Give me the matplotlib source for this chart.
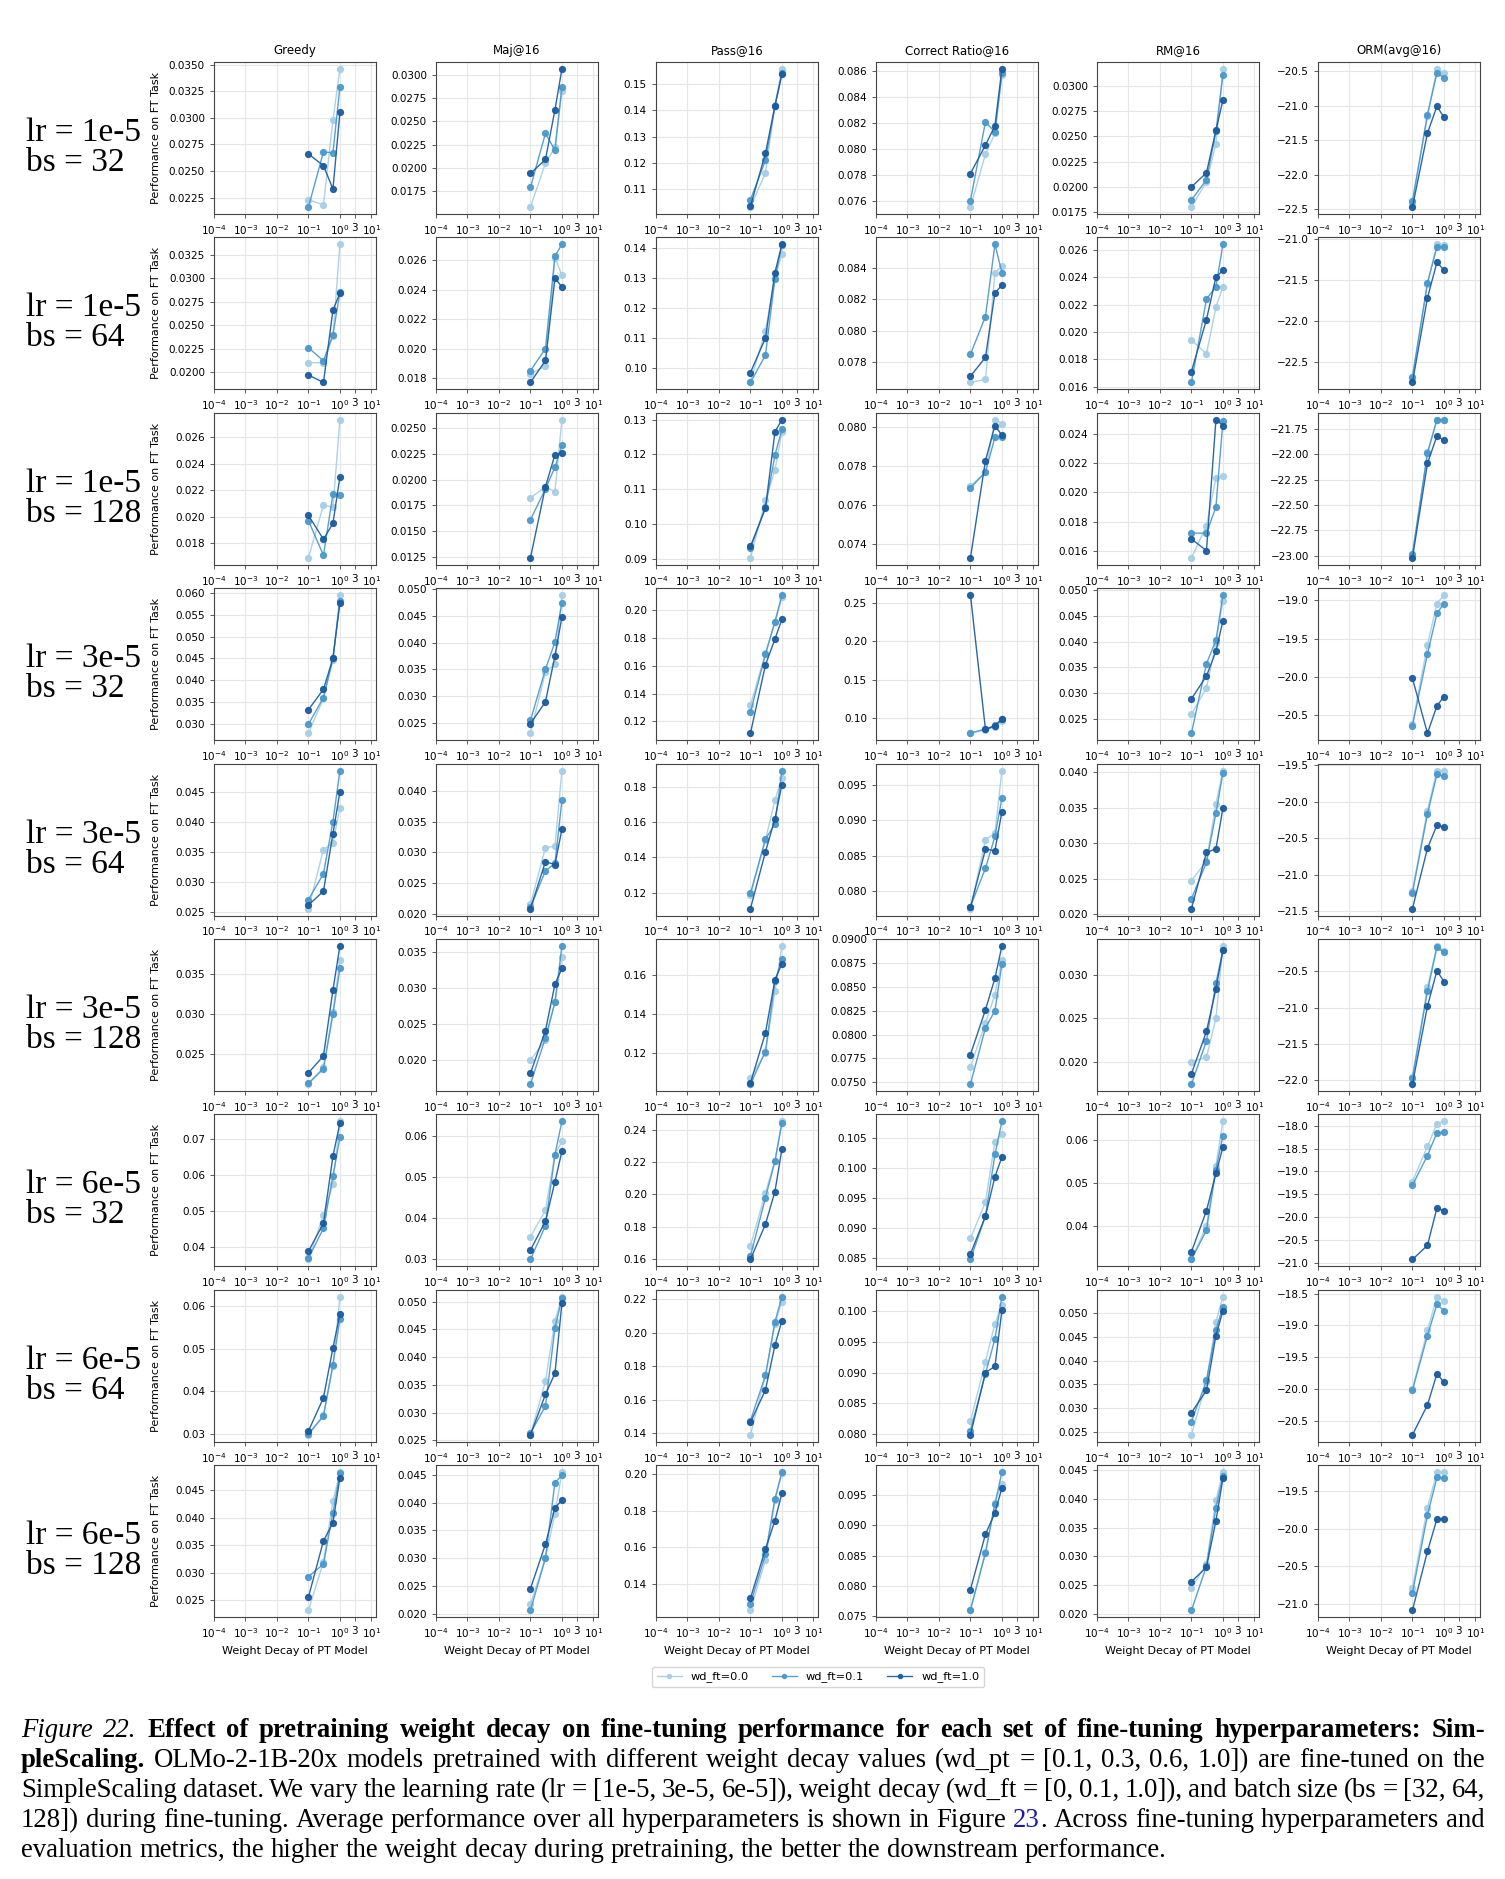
import matplotlib
matplotlib.use("Agg")
import matplotlib.pyplot as plt
from matplotlib.ticker import FixedLocator, FixedFormatter, NullLocator

# x positions: weight decay of the pretrained model
wd_pt = [0.1, 0.3, 0.6, 1.0]
series_labels = ['wd_ft=0.0', 'wd_ft=0.1', 'wd_ft=1.0']
metric_names = ['Greedy', 'Maj@16', 'Pass@16', 'Correct Ratio@16', 'RM@16', 'ORM(avg@16)']
lr_labels = ['1e-5', '1e-5', '1e-5', '3e-5', '3e-5', '3e-5', '6e-5', '6e-5', '6e-5']
bs_labels = ['32', '64', '128', '32', '64', '128', '32', '64', '128']

# one entry per (lr, bs) row; each entry = [wd_ft=0.0, wd_ft=0.1, wd_ft=1.0]
greedy = [
    [[0.0223, 0.0218, 0.0298, 0.0346], [0.0216, 0.0268, 0.0267, 0.0329], [0.0266, 0.0255, 0.0233, 0.0305]],
    [[0.0210, 0.0210, 0.0238, 0.0336], [0.0226, 0.0212, 0.0240, 0.0285], [0.0197, 0.0189, 0.0266, 0.0284]],
    [[0.0169, 0.0209, 0.0207, 0.0273], [0.0197, 0.0171, 0.0217, 0.0216], [0.0201, 0.0183, 0.0195, 0.0230]],
    [[0.0278, 0.0358, 0.0445, 0.0595], [0.0299, 0.0360, 0.0450, 0.0582], [0.0332, 0.0379, 0.0450, 0.0578]],
    [[0.0256, 0.0354, 0.0365, 0.0423], [0.0271, 0.0314, 0.0400, 0.0485], [0.0262, 0.0285, 0.0380, 0.0450]],
    [[0.0213, 0.0234, 0.0303, 0.0367], [0.0214, 0.0232, 0.0300, 0.0357], [0.0227, 0.0248, 0.0330, 0.0385]],
    [[0.0365, 0.0490, 0.0575, 0.0750], [0.0368, 0.0452, 0.0598, 0.0705], [0.0388, 0.0466, 0.0653, 0.0745]],
    [[0.0298, 0.0345, 0.0460, 0.0622], [0.0300, 0.0342, 0.0462, 0.0570], [0.0307, 0.0385, 0.0502, 0.0581]],
    [[0.0232, 0.0320, 0.0430, 0.0483], [0.0293, 0.0316, 0.0409, 0.0481], [0.0256, 0.0358, 0.0391, 0.0473]],
]
maj16 = [
    [[0.0158, 0.0205, 0.0222, 0.0282], [0.0179, 0.0237, 0.0219, 0.0287], [0.0194, 0.0209, 0.0262, 0.0306]],
    [[0.0183, 0.0188, 0.0262, 0.0250], [0.0185, 0.0200, 0.0263, 0.0271], [0.0177, 0.0192, 0.0248, 0.0242]],
    [[0.0182, 0.0193, 0.0188, 0.0258], [0.0161, 0.0191, 0.0212, 0.0233], [0.0124, 0.0193, 0.0224, 0.0226]],
    [[0.0230, 0.0345, 0.0360, 0.0489], [0.0254, 0.0350, 0.0401, 0.0474], [0.0248, 0.0289, 0.0375, 0.0448]],
    [[0.0215, 0.0308, 0.0310, 0.0434], [0.0210, 0.0270, 0.0282, 0.0385], [0.0208, 0.0285, 0.0280, 0.0338]],
    [[0.0200, 0.0228, 0.0280, 0.0342], [0.0167, 0.0231, 0.0280, 0.0358], [0.0182, 0.0241, 0.0305, 0.0327]],
    [[0.0355, 0.0420, 0.0555, 0.0587], [0.0300, 0.0382, 0.0555, 0.0636], [0.0323, 0.0393, 0.0489, 0.0563]],
    [[0.0260, 0.0357, 0.0465, 0.0509], [0.0263, 0.0312, 0.0453, 0.0506], [0.0260, 0.0333, 0.0371, 0.0497]],
    [[0.0217, 0.0300, 0.0380, 0.0455], [0.0206, 0.0300, 0.0436, 0.0449], [0.0245, 0.0325, 0.0391, 0.0404]],
]
pass16 = [
    [[0.1033, 0.1163, 0.1420, 0.1557], [0.1061, 0.1210, 0.1415, 0.1540], [0.1036, 0.1237, 0.1417, 0.1538]],
    [[0.0955, 0.1125, 0.1300, 0.1380], [0.0952, 0.1043, 0.1298, 0.1410], [0.0985, 0.1100, 0.1318, 0.1412]],
    [[0.0902, 0.1068, 0.1155, 0.1265], [0.0930, 0.1048, 0.1198, 0.1272], [0.0935, 0.1045, 0.1265, 0.1300]],
    [[0.1315, 0.1690, 0.1910, 0.2090], [0.1265, 0.1680, 0.1915, 0.2105], [0.1115, 0.1605, 0.1790, 0.1932]],
    [[0.1185, 0.1500, 0.1725, 0.1855], [0.1195, 0.1505, 0.1590, 0.1895], [0.1108, 0.1432, 0.1620, 0.1815]],
    [[0.1075, 0.1205, 0.1515, 0.1745], [0.1045, 0.1210, 0.1565, 0.1677], [0.1050, 0.1305, 0.1573, 0.1655]],
    [[0.1680, 0.2010, 0.2210, 0.2455], [0.1615, 0.1980, 0.2205, 0.2445], [0.1595, 0.1815, 0.2018, 0.2282]],
    [[0.1390, 0.1745, 0.2055, 0.2185], [0.1475, 0.1745, 0.2065, 0.2215], [0.1465, 0.1658, 0.1925, 0.2072]],
    [[0.1255, 0.1530, 0.1855, 0.2005], [0.1290, 0.1560, 0.1865, 0.2010], [0.1320, 0.1590, 0.1745, 0.1895]],
]
correct16 = [
    [[0.0755, 0.0796, 0.0812, 0.0857], [0.0760, 0.0821, 0.0813, 0.0859], [0.0781, 0.0803, 0.0818, 0.0862]],
    [[0.0767, 0.0769, 0.0837, 0.0841], [0.0785, 0.0809, 0.0855, 0.0837], [0.0771, 0.0783, 0.0824, 0.0829]],
    [[0.0770, 0.0777, 0.0804, 0.0802], [0.0769, 0.0777, 0.0795, 0.0795], [0.0733, 0.0783, 0.0801, 0.0796]],
    [[0.0805, 0.0850, 0.0885, 0.0970], [0.0810, 0.0860, 0.0910, 0.0985], [0.2600, 0.0855, 0.0900, 0.0990]],
    [[0.0775, 0.0872, 0.0882, 0.0970], [0.0778, 0.0832, 0.0877, 0.0931], [0.0777, 0.0859, 0.0857, 0.0912]],
    [[0.0766, 0.0812, 0.0842, 0.0878], [0.0748, 0.0807, 0.0825, 0.0874], [0.0779, 0.0826, 0.0859, 0.0893]],
    [[0.0883, 0.0943, 0.1043, 0.1056], [0.0848, 0.0920, 0.1022, 0.1077], [0.0857, 0.0920, 0.0985, 0.1018]],
    [[0.0820, 0.0918, 0.0980, 0.1010], [0.0805, 0.0898, 0.0955, 0.1024], [0.0798, 0.0900, 0.0910, 0.1002]],
    [[0.0760, 0.0855, 0.0937, 0.0968], [0.0761, 0.0854, 0.0935, 0.0987], [0.0794, 0.0885, 0.0920, 0.0961]],
]
rm16 = [
    [[0.0180, 0.0205, 0.0243, 0.0317], [0.0187, 0.0207, 0.0255, 0.0311], [0.0200, 0.0214, 0.0256, 0.0286]],
    [[0.0194, 0.0184, 0.0218, 0.0233], [0.0163, 0.0224, 0.0233, 0.0264], [0.0171, 0.0209, 0.0240, 0.0245]],
    [[0.0155, 0.0177, 0.0210, 0.0211], [0.0172, 0.0172, 0.0190, 0.0249], [0.0168, 0.0160, 0.0250, 0.0246]],
    [[0.0259, 0.0310, 0.0398, 0.0478], [0.0222, 0.0357, 0.0402, 0.0490], [0.0289, 0.0333, 0.0381, 0.0440]],
    [[0.0247, 0.0275, 0.0355, 0.0402], [0.0222, 0.0273, 0.0342, 0.0399], [0.0208, 0.0287, 0.0292, 0.0349]],
    [[0.0200, 0.0205, 0.0250, 0.0334], [0.0174, 0.0224, 0.0291, 0.0329], [0.0186, 0.0235, 0.0284, 0.0329]],
    [[0.0322, 0.0400, 0.0540, 0.0643], [0.0322, 0.0390, 0.0531, 0.0610], [0.0340, 0.0435, 0.0522, 0.0583]],
    [[0.0243, 0.0355, 0.0482, 0.0535], [0.0271, 0.0358, 0.0465, 0.0514], [0.0290, 0.0337, 0.0453, 0.0505]],
    [[0.0245, 0.0287, 0.0398, 0.0447], [0.0206, 0.0283, 0.0385, 0.0441], [0.0256, 0.0281, 0.0362, 0.0436]],
]
orm16 = [
    [[-22.42, -21.15, -20.47, -20.53], [-22.38, -21.13, -20.53, -20.60], [-22.47, -21.40, -21.01, -21.17]],
    [[-22.70, -21.55, -21.07, -21.08], [-22.68, -21.54, -21.10, -21.10], [-22.75, -21.72, -21.29, -21.38]],
    [[-23.00, -21.98, -21.66, -21.66], [-22.98, -21.99, -21.66, -21.66], [-23.02, -22.09, -21.82, -21.86]],
    [[-20.62, -19.58, -19.04, -18.93], [-20.64, -19.70, -19.17, -19.04], [-20.02, -20.74, -20.38, -20.26]],
    [[-21.22, -20.12, -19.57, -19.57], [-21.25, -20.17, -19.62, -19.65], [-21.47, -20.64, -20.32, -20.35]],
    [[-21.95, -20.72, -20.15, -20.22], [-21.97, -20.77, -20.17, -20.24], [-22.05, -20.98, -20.49, -20.64]],
    [[-19.22, -18.45, -17.95, -17.90], [-19.30, -18.65, -18.15, -18.14], [-20.93, -20.62, -19.80, -19.86]],
    [[-20.00, -19.08, -18.55, -18.61], [-20.02, -19.16, -18.67, -18.77], [-20.72, -20.25, -19.76, -19.89]],
    [[-20.78, -19.72, -19.25, -19.25], [-20.85, -19.82, -19.32, -19.33], [-21.08, -20.30, -19.87, -19.87]],
]
metric_data = [greedy, maj16, pass16, correct16, rm16, orm16]

xtick_vals = [1e-4, 1e-3, 1e-2, 1e-1, 1, 3, 10]
xtick_text = ['$10^{-4}$', '$10^{-3}$', '$10^{-2}$', '$10^{-1}$', '$10^{0}$', '3', '$10^{1}$']

colors = ['#a6cee6', '#4a98cb', '#1a5a9e']

W, H = 1505, 1879
fig = plt.figure(figsize=(W / 100, H / 100), dpi=100)

col_left = [214, 436, 656, 876, 1097, 1318]
ax_w, ax_h = 162, 152
row_top0, row_step = 62, 175.4

handles = None
for r in range(9):
    top = row_top0 + r * row_step
    for c in range(6):
        ax = fig.add_axes([col_left[c] / W, 1 - (top + ax_h) / H, ax_w / W, ax_h / H])
        vals = metric_data[c][r]
        for k in range(3):
            ax.plot(wd_pt, vals[k], marker='o', ms=4.2, lw=1.0, color=colors[k],
                    alpha=0.92, label=series_labels[k])
        ax.set_xscale('log')
        ax.set_xlim(1e-4, 14)
        ax.xaxis.set_major_locator(FixedLocator(xtick_vals))
        ax.xaxis.set_major_formatter(FixedFormatter(xtick_text))
        ax.xaxis.set_minor_locator(NullLocator())
        ax.tick_params(labelsize=7.5, length=3, width=0.6, color='#444444')
        ax.grid(True, color='#e6e6e6', lw=0.8)
        ax.set_axisbelow(True)
        for s in ax.spines.values():
            s.set_color('#444444')
            s.set_linewidth(0.8)
        if r == 0:
            ax.set_title(metric_names[c], fontsize=8.5)
        if c == 0:
            ax.set_ylabel('Performance on FT Task', fontsize=8)
            ax.yaxis.set_label_coords(-0.33, 0.5)
        if r == 8:
            ax.set_xlabel('Weight Decay of PT Model', fontsize=8)
        if handles is None:
            handles, labels = ax.get_legend_handles_labels()
    fig.text(26 / W, 1 - (top + 79) / H, 'lr = ' + lr_labels[r], fontsize=24,
             family='Liberation Serif', va='baseline')
    fig.text(26 / W, 1 - (top + 109) / H, 'bs = ' + bs_labels[r], fontsize=24,
             family='Liberation Serif', va='baseline')

fig.legend(handles, labels, loc='center', bbox_to_anchor=(818 / W, 1 - 1677 / H),
           ncol=3, fontsize=8.2, frameon=True, handlelength=2.2, columnspacing=2.0,
           markerscale=0.7)

# caption, justified line by line
cap_size = 19.3
reg = {}
ita = {'style': 'italic'}
bld = {'weight': 'bold'}
blue = {'color': '#1a1aa6'}
caption_lines = [
    [('Figure 22.', ita), (' Effect of pretraining weight decay on fine-tuning performance for each set of fine-tuning hyperparameters: Sim-', bld)],
    [('pleScaling.', bld), (' OLMo-2-1B-20x models pretrained with different weight decay values (wd_pt = [0.1, 0.3, 0.6, 1.0]) are fine-tuned on the', reg)],
    [('SimpleScaling dataset. We vary the learning rate (lr = [1e-5, 3e-5, 6e-5]), weight decay (wd_ft = [0, 0.1, 1.0]), and batch size (bs = [32, 64,', reg)],
    [('128]) during fine-tuning. Average performance over all hyperparameters is shown in Figure ', reg), ('23', blue),
     ('. Across fine-tuning hyperparameters and', reg)],
    [('evaluation metrics, the higher the weight decay during pretraining, the better the downstream performance.', reg)],
]
renderer = fig.canvas.get_renderer()
x0, x1 = 21, 1485
space = 0.25 * cap_size * 100 / 72


def draw_line(pieces, y_base, justify):
    # group into words; a piece that follows without a space sticks to the previous word
    words = []
    prev_space = True
    for txt, st in pieces:
        parts = txt.split(' ')
        for i, p in enumerate(parts):
            if p == '':
                continue
            if i == 0 and words and not prev_space:
                words[-1].append((p, st))
            else:
                words.append([(p, st)])
        prev_space = txt.endswith(' ')
    placed = []
    widths = []
    for w in words:
        objs = []
        tot = 0
        for p, st in w:
            t = fig.text(0, 0, p, fontsize=cap_size, family='Liberation Serif', va='baseline', **st)
            bw = t.get_window_extent(renderer).width
            objs.append((t, bw))
            tot += bw
        placed.append(objs)
        widths.append(tot)
    gap = (x1 - x0 - sum(widths)) / (len(words) - 1) if justify else space
    x = x0
    for objs, tw in zip(placed, widths):
        xx = x
        for t, bw in objs:
            t.set_position((xx / W, 1 - y_base / H))
            xx += bw
        x += tw + gap


for i, line in enumerate(caption_lines):
    draw_line(line, 1737 + 30 * i, i < len(caption_lines) - 1)

fig.savefig('out.png', dpi=100)
